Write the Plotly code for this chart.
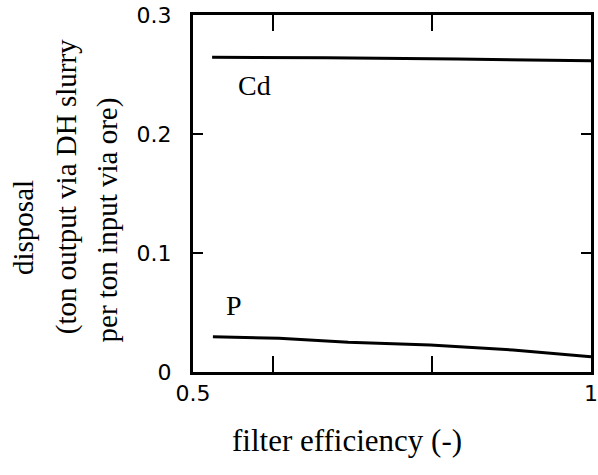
import plotly.graph_objects as go

cd_x = [0.524, 0.667, 0.832, 1.0]
cd_y = [0.2645, 0.2641, 0.2630, 0.2616]
p_x = [0.525, 0.608, 0.695, 0.798, 0.902, 1.0]
p_y = [0.0297, 0.0283, 0.0250, 0.0227, 0.0185, 0.0129]

x_tickvals = [0.5, 0.6, 0.8, 1.0]
x_ticktext = ["0.5", "", "", "1"]
y_tickvals = [0, 0.1, 0.2, 0.3]
y_ticktext = ["0", "0.1", "0.2", "0.3"]

W, H = 598, 475
L, R, T, B = 193, 0, 15, 103
pw, ph = W - L - R, H - T - B

def px(xp):
    return (xp - L) / pw

def py(yp):
    return (H - B - yp) / ph

fig = go.Figure()
fig.add_trace(go.Scatter(x=cd_x, y=cd_y, mode="lines", line=dict(color="black", width=3), showlegend=False))
fig.add_trace(go.Scatter(x=p_x, y=p_y, mode="lines", line=dict(color="black", width=3), showlegend=False))

serif = "Liberation Serif"
ann = [
    dict(x=0.577, y=0.241, xref="x", yref="y", text="Cd", showarrow=False, font=dict(family=serif, size=28, color="black")),
    dict(x=0.552, y=0.056, xref="x", yref="y", text="P", showarrow=False, font=dict(family=serif, size=28, color="black")),
    dict(x=px(350), y=py(440), xref="paper", yref="paper", text="filter efficiency (-)", showarrow=False,
         font=dict(family=serif, size=31, color="black"), xanchor="center", yanchor="middle"),
    dict(x=px(20), y=py(227), xref="paper", yref="paper", text="disposal", showarrow=False, textangle=-90,
         font=dict(family=serif, size=29, color="black"), xanchor="center", yanchor="middle"),
    dict(x=px(65), y=py(187), xref="paper", yref="paper", text="(ton output via DH slurry", showarrow=False, textangle=-90,
         font=dict(family=serif, size=29, color="black"), xanchor="center", yanchor="middle"),
    dict(x=px(107), y=py(220), xref="paper", yref="paper", text="per ton input via ore)", showarrow=False, textangle=-90,
         font=dict(family=serif, size=29, color="black"), xanchor="center", yanchor="middle"),
]

fig.update_layout(
    width=W, height=H,
    margin=dict(l=L, r=R, t=T, b=B),
    paper_bgcolor="white", plot_bgcolor="white",
    annotations=ann,
    xaxis=dict(range=[0.5, 1.0], tickvals=x_tickvals, ticktext=x_ticktext, ticks="inside", ticklen=16,
               tickwidth=2, tickcolor="black", showline=True, linecolor="black", linewidth=3, mirror="ticks",
               showgrid=False, zeroline=False, ticklabeloverflow="allow",
               tickfont=dict(family="DejaVu Sans", size=22, color="black")),
    yaxis=dict(range=[0, 0.3], tickvals=y_tickvals, ticktext=y_ticktext, ticks="inside", ticklen=10,
               tickwidth=2, tickcolor="black", showline=True, linecolor="black", linewidth=3, mirror="ticks",
               showgrid=False, zeroline=False, ticklabelstandoff=14,
               tickfont=dict(family="DejaVu Sans", size=22, color="black")),
)

fig.write_html("out.html")
